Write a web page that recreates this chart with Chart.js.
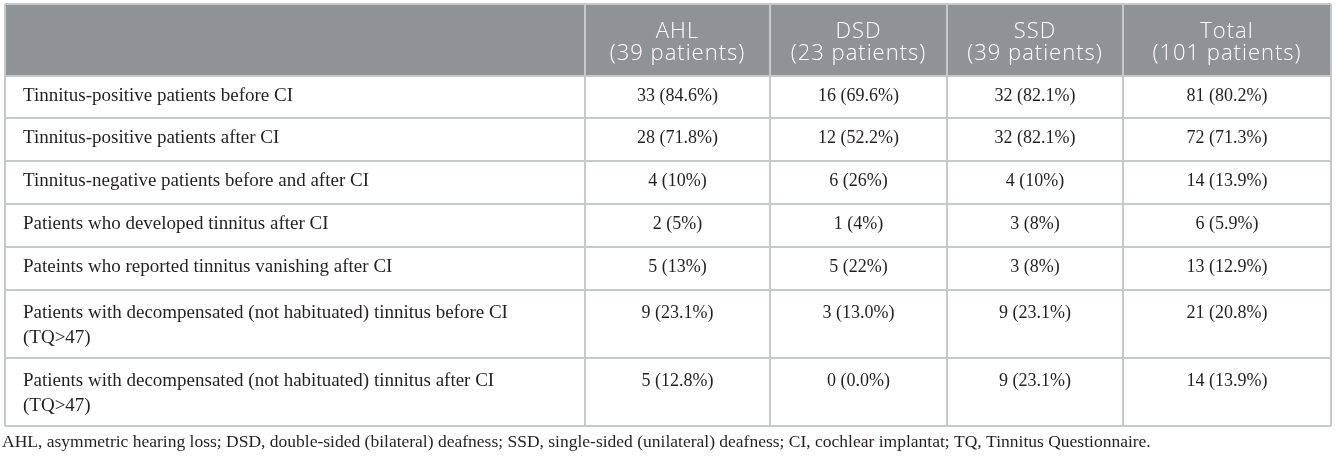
<!DOCTYPE html>
<html>
<head>
<meta charset="utf-8">
<script src="https://cdn.jsdelivr.net/npm/chart.js@4.4.0/dist/chart.umd.min.js"></script>
<style>
  html, body { margin: 0; background: #fff; }
</style>
</head>
<body>
<canvas id="tinnitusTable" width="1337" height="459"></canvas>
<script>
// table content
const groups = ['AHL', 'DSD', 'SSD', 'Total'];
const groupSizes = [39, 23, 39, 101];
const rowLabels = [
  ['Tinnitus-positive patients before CI'],
  ['Tinnitus-positive patients after CI'],
  ['Tinnitus-negative patients before and after CI'],
  ['Patients who developed tinnitus after CI'],
  ['Pateints who reported tinnitus vanishing after CI'],
  ['Patients with decompensated (not habituated) tinnitus before CI', '(TQ>47)'],
  ['Patients with decompensated (not habituated) tinnitus after CI', '(TQ>47)']
];
const ahlCounts = [33, 28, 4, 2, 5, 9, 5];
const ahlShares = ['84.6', '71.8', '10', '5', '13', '23.1', '12.8'];
const dsdCounts = [16, 12, 6, 1, 5, 3, 0];
const dsdShares = ['69.6', '52.2', '26', '4', '22', '13.0', '0.0'];
const ssdCounts = [32, 32, 4, 3, 3, 9, 9];
const ssdShares = ['82.1', '82.1', '10', '8', '8', '23.1', '23.1'];
const totalCounts = [81, 72, 14, 6, 13, 21, 14];
const totalShares = ['80.2', '71.3', '13.9', '5.9', '12.9', '20.8', '13.9'];
const footnote = 'AHL, asymmetric hearing loss; DSD, double-sided (bilateral) deafness; SSD, single-sided (unilateral) deafness; CI, cochlear implantat; TQ, Tinnitus Questionnaire.';

// layout of the grid (in table units = px)
const colWidths = [580, 185, 177, 176, 208];
const rowHeights = [72, 42, 43, 43, 43, 43, 68, 68];
const edges = sizes => sizes.reduce((acc, s) => { acc.push(acc[acc.length - 1] + s); return acc; }, [0]);
const colEdges = edges(colWidths);
const rowEdges = edges(rowHeights);
const colCenter = c => (colEdges[c] + colEdges[c + 1]) / 2;
// first text line offset inside a body row (two-line rows sit a bit lower)
const lineOffset = i => rowLabels[i].length > 1 ? 23 : 20;

const columns = [
  [ahlCounts, ahlShares],
  [dsdCounts, dsdShares],
  [ssdCounts, ssdShares],
  [totalCounts, totalShares]
];

const datasets = [];
// header cells
datasets.push({
  kind: 'head',
  data: groups.map((g, j) => ({ x: colCenter(j + 1), y: 28 })),
  cellText: groups.map((g, j) => [g, '(' + groupSizes[j] + ' patients)'])
});
// row labels
datasets.push({
  kind: 'label',
  data: rowLabels.map((l, i) => ({ x: 18, y: rowEdges[i + 1] + lineOffset(i) })),
  cellText: rowLabels
});
// value cells
columns.forEach(([counts, shares], j) => {
  datasets.push({
    kind: 'value',
    data: counts.map((n, i) => ({ x: colCenter(j + 1), y: rowEdges[i + 1] + lineOffset(i) })),
    cellText: counts.map((n, i) => [n + ' (' + shares[i] + '%)'])
  });
});
datasets.forEach(ds => { ds.pointRadius = 0; ds.pointHoverRadius = 0; ds.pointHitRadius = 0; });

const headerFill = {
  id: 'headerFill',
  beforeDraw(chart) {
    const { ctx, chartArea, scales } = chart;
    const top = scales.y.getPixelForValue(rowEdges[0]);
    const bottom = scales.y.getPixelForValue(rowEdges[1]);
    ctx.save();
    ctx.fillStyle = '#8e9396';
    ctx.fillRect(chartArea.left, top, chartArea.right - chartArea.left, bottom - top);
    ctx.restore();
  }
};

const cellText = {
  id: 'cellText',
  afterDatasetsDraw(chart) {
    const ctx = chart.ctx;
    chart.data.datasets.forEach((ds, i) => {
      const meta = chart.getDatasetMeta(i);
      ctx.save();
      ctx.textBaseline = 'middle';
      let lh = 25;
      if (ds.kind === 'head') {
        ctx.font = '300 22px "Open Sans", sans-serif';
        ctx.fillStyle = '#ffffff';
        ctx.textAlign = 'center';
        ctx.letterSpacing = '1px';
        lh = 22;
      } else if (ds.kind === 'label') {
        ctx.font = '19px "Liberation Serif", serif';
        ctx.fillStyle = '#231f20';
        ctx.textAlign = 'left';
      } else {
        ctx.font = '18px "Liberation Serif", serif';
        ctx.fillStyle = '#231f20';
        ctx.textAlign = 'center';
      }
      meta.data.forEach((pt, k) => {
        ds.cellText[k].forEach((s, l) => ctx.fillText(s, pt.x, pt.y + l * lh));
      });
      ctx.restore();
    });
  }
};

const gridAxis = (max, stops) => ({
  type: 'linear',
  min: 0,
  max: max,
  afterBuildTicks: scale => { scale.ticks = stops.map(v => ({ value: v })); },
  ticks: { display: false },
  grid: { color: '#c6c9ca', lineWidth: 2, drawTicks: false },
  border: { display: false }
});

new Chart(document.getElementById('tinnitusTable'), {
  type: 'scatter',
  data: { datasets: datasets },
  options: {
    responsive: false,
    animation: false,
    layout: { padding: { left: 2, right: 6, top: 4, bottom: 0 } },
    scales: {
      x: gridAxis(colEdges[colEdges.length - 1], colEdges),
      y: Object.assign(gridAxis(rowEdges[rowEdges.length - 1], rowEdges), {
        reverse: true,
        afterFit: scale => { scale.width = 3; }
      })
    },
    plugins: {
      legend: { display: false },
      tooltip: { enabled: false },
      title: {
        display: true,
        text: footnote,
        position: 'bottom',
        align: 'start',
        color: '#231f20',
        font: { family: '"Liberation Serif", serif', size: 17.5, weight: 'normal', lineHeight: 1.2 },
        padding: { top: 6, bottom: 6 }
      }
    }
  },
  plugins: [headerFill, cellText]
});
</script>
</body>
</html>
